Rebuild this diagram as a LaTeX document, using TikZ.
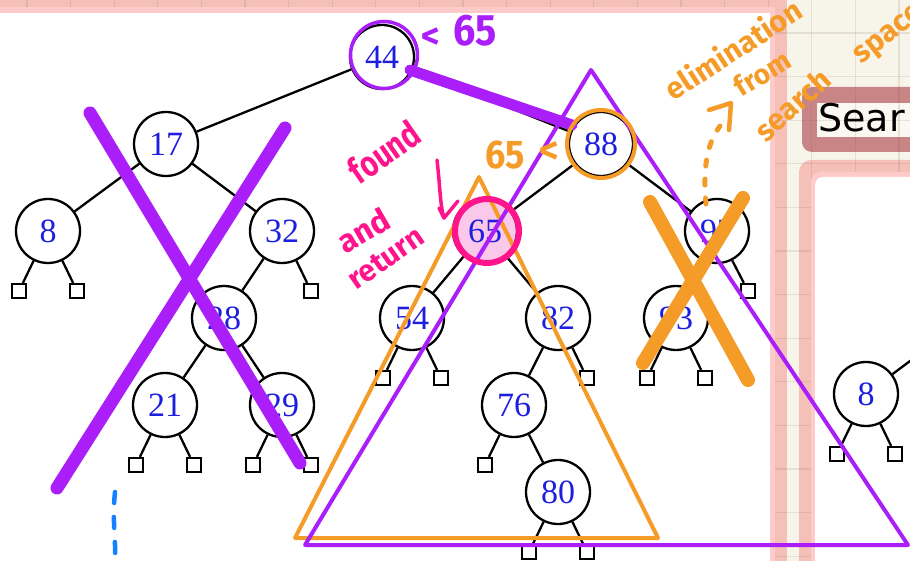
\documentclass[tikz,border=0pt]{standalone}
\usepackage{fontspec}
\setmainfont{Liberation Serif}
\newfontfamily\handfont{Fira Sans}
\newfontfamily\uifont{DejaVu Sans}
\newcommand\handsize[1]{\handfont\bfseries\fontsize{#1}{#1}\selectfont}

\definecolor{paper}{RGB}{247,245,234}
\definecolor{frameSalmon}{RGB}{245,192,184}
\definecolor{frameLight}{RGB}{255,202,202}
\definecolor{roseBox}{RGB}{201,133,133}
\definecolor{tabFill}{RGB}{250,248,240}
\definecolor{gridInk}{RGB}{110,80,60}
\definecolor{keyBlue}{RGB}{30,30,225}
\definecolor{hiPink}{RGB}{250,200,232}
\definecolor{inkPurple}{RGB}{170,30,250}
\definecolor{inkOrange}{RGB}{245,155,40}
\definecolor{inkMagenta}{RGB}{255,20,140}
\definecolor{inkBlue}{RGB}{20,130,255}

\tikzset{
  key/.style={circle, draw=black, line width=2.3pt, minimum size=64pt, inner sep=0pt,
              fill=white, text=keyBlue, font=\fontsize{34}{34}\selectfont},
  leaf/.style={rectangle, draw=black, line width=2.3pt, minimum size=14pt, inner sep=0pt, fill=white},
  edge/.style={line width=2.3pt},
  gridline/.style={draw=gridInk, opacity=0.13, line width=1.2pt},
  ink/.style={line cap=round, line join=round},
  hand/.style={inner sep=0pt, anchor=center}
}

\begin{document}
\begin{tikzpicture}[x=1pt,y=-1pt]
\useasboundingbox (0,0) rectangle (910,561);
\clip (0,0) rectangle (910,561);

% desk and sheet frames
\fill[paper] (-10,-10) rectangle (920,571);
\fill[frameSalmon] (-20,-20) rectangle (787,581);
\fill[frameSalmon, rounded corners=12pt] (799,160) rectangle (960,620);
% title tab
\fill[roseBox, rounded corners=10pt] (802,87) rectangle (980,152);
\fill[tabFill] (817,103) rectangle (980,137);
% grid
\foreach \i in {0,...,20}
  \draw[gridline] ({27+43.6*\i},-5) -- ({27+43.6*\i},570);
\foreach \j in {0,...,12}
  \draw[gridline] (-5,{33+43.6*\j}) -- (915,{33+43.6*\j});
\node[anchor=base west, inner sep=0pt, font=\uifont\fontsize{38}{38}\selectfont] (tab) at (818,132) {Sear};
% sheets
\fill[frameLight] (-20,7) rectangle (775,581);
\fill[white] (-20,13) rectangle (770,581);
\fill[frameLight, rounded corners=10pt] (811,172) rectangle (960,620);
\fill[white, rounded corners=8pt] (815,177) rectangle (960,620);

% binary search tree
\node[key] (n44) at (382,57) {44};
\node[key] (n17) at (166,144) {17};
\node[key] (n88) at (601,144) {88};
\node[key] (n8) at (48,231) {8};
\node[key] (n32) at (282,231) {32};
\node[key, fill=hiPink] (n65) at (485,231) {65};
\node[key] (n97) at (717,231) {97};
\node[key] (n28) at (224,318) {28};
\node[key] (n54) at (412,318) {54};
\node[key] (n82) at (558,318) {82};
\node[key] (n93) at (676,318) {93};
\node[key] (n21) at (165,405) {21};
\node[key] (n29) at (282,405) {29};
\node[key] (n76) at (514,405) {76};
\node[key] (n80) at (558,492) {80};
\node[key] (m8) at (866,394) {8};
\coordinate (mP) at (982,307);

\node[leaf] (l8a) at (19,291) {};
\node[leaf] (l8b) at (77,291) {};
\node[leaf] (l32) at (311,291) {};
\node[leaf] (l21a) at (136,465) {};
\node[leaf] (l21b) at (194,465) {};
\node[leaf] (l29a) at (253,465) {};
\node[leaf] (l29b) at (311,465) {};
\node[leaf] (l54a) at (383,378) {};
\node[leaf] (l54b) at (441,378) {};
\node[leaf] (l82) at (587,378) {};
\node[leaf] (l76) at (485,465) {};
\node[leaf] (l80a) at (529,552) {};
\node[leaf] (l80b) at (587,552) {};
\node[leaf] (l93a) at (647,378) {};
\node[leaf] (l93b) at (705,378) {};
\node[leaf] (l97) at (748,291) {};
\node[leaf] (m8a) at (837,454) {};
\node[leaf] (m8b) at (895,454) {};

\foreach \a/\b in {n44/n17, n44/n88, n17/n8, n17/n32, n8/l8a, n8/l8b, n32/n28, n32/l32,
  n28/n21, n28/n29, n21/l21a, n21/l21b, n29/l29a, n29/l29b, n88/n65, n88/n97,
  n65/n54, n65/n82, n54/l54a, n54/l54b, n82/n76, n82/l82, n76/l76, n76/n80,
  n80/l80a, n80/l80b, n97/n93, n97/l97, n93/l93a, n93/l93b, m8/m8a, m8/m8b}
  \draw[edge] (\a) -- (\b);
\draw[edge] (m8) -- (mP);

% ---- ink annotations ----
% subtree left of the root crossed out
\draw[ink, inkPurple, line width=13pt] (90,113) -- (300,463);
\draw[ink, inkPurple, line width=13pt] (285,128) -- (57,488);
% path taken from the root
\draw[ink, inkPurple, line width=11pt] (410,70) -- (572,125);
\draw[inkPurple, line width=3.5pt] (384,55) circle[radius=33.5pt];
\node[hand, text=inkPurple, font=\handsize{36}] (cmpA) at (431,38) {<};
\node[hand, text=inkPurple, font=\handsize{44}, xscale=0.9] (valA) at (475,31) {65};

% remaining search space and right subtree
\draw[inkOrange, line width=4pt, line join=round] (479,177) -- (295,538) -- (658,538) -- cycle;
\draw[inkPurple, line width=4pt, line join=round] (591,70) -- (305,545) -- (908,545) -- cycle;
\draw[inkOrange, line width=4pt] (601,144) circle[radius=34pt];
\node[hand, text=inkOrange, font=\handsize{40}, xscale=0.9] (valB) at (505,155) {65};
\node[hand, text=inkOrange, font=\handsize{38}] (cmpB) at (549,153) {<};

% eliminated subtree
\draw[ink, inkOrange, line width=14pt] (650,202) -- (748,380);
\draw[ink, inkOrange, line width=14pt] (743,198) -- (643,363);
\draw[inkOrange, line width=5pt, line cap=round, dash pattern=on 6pt off 13pt]
  (706,204) .. controls (703,170) and (706,145) .. (720,126);
\draw[ink, inkOrange, line width=4.5pt] (709,110) -- (731,103) -- (729,130);
\node[hand, text=inkOrange, font=\handsize{30}, rotate=33] (elim) at (733,49) {elimination};
\node[hand, text=inkOrange, font=\handsize{28}, rotate=32] (from) at (762,73) {from};
\node[hand, text=inkOrange, font=\handsize{30}, rotate=42] (srch) at (792,105) {search};
\node[hand, text=inkOrange, font=\handsize{30}, rotate=38] (spc) at (890,36) {space};

% key found
\draw[inkMagenta, line width=6pt] (487,231) circle[radius=32pt];
\draw[ink, inkMagenta, line width=3.5pt] (437,160) .. controls (440,185) and (440,205) .. (444,218) -- (458,201);
\draw[ink, inkMagenta, line width=3.5pt] (439,208) -- (444,218);
\node[hand, text=inkMagenta, font=\handsize{29}, rotate=35, yscale=1.25] (fnd) at (384,152) {found};
\node[hand, text=inkMagenta, font=\handsize{32}, rotate=30] (andw) at (363,230) {and};
\node[hand, text=inkMagenta, font=\handsize{30}, rotate=35] (ret) at (386,258) {return};

% blue dashes below the left subtree
\draw[ink, inkBlue, line width=4.5pt, dash pattern=on 11pt off 14pt]
  (115,492) .. controls (112,520) and (116,540) .. (115,560);
\end{tikzpicture}
\end{document}
